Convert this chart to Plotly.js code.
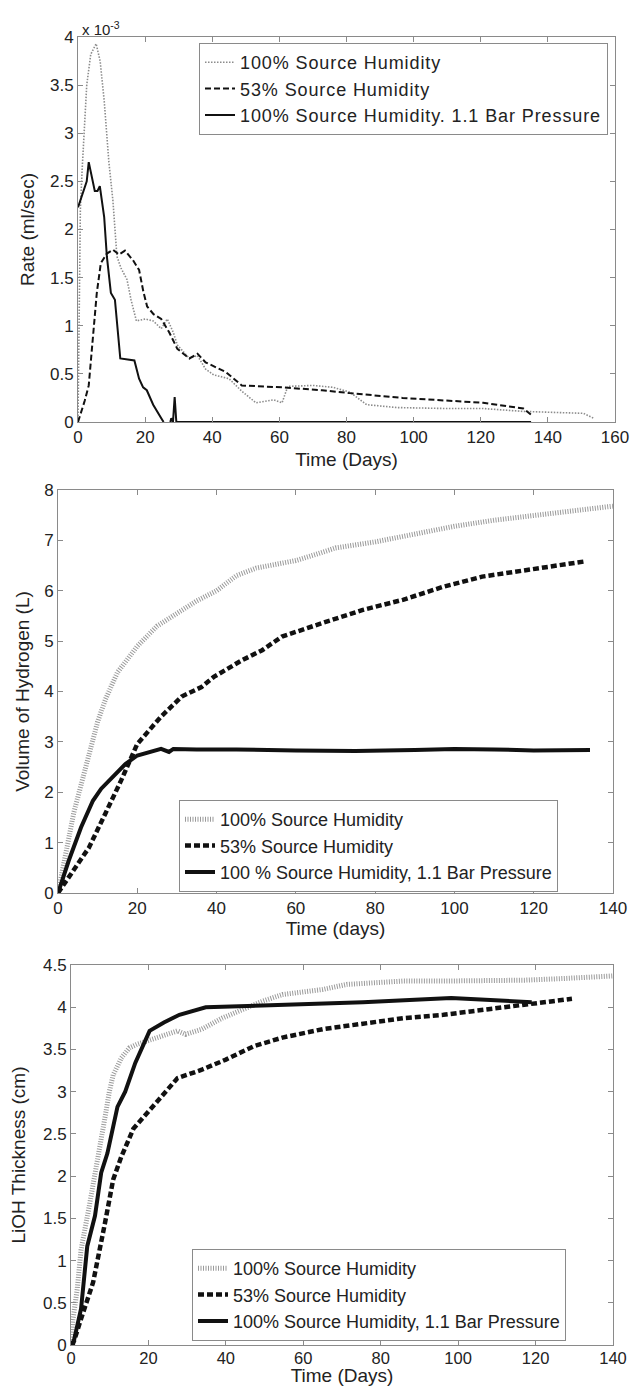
<!DOCTYPE html>
<html>
<head>
<meta charset="utf-8">
<script src="https://cdn.plot.ly/plotly-3.0.1.min.js"></script>
<style>
html,body{margin:0;padding:0;background:#fff;}
#chart{width:631px;height:1386px;}
.legendtext{letter-spacing:0.9px;}
</style>
</head>
<body>
<div id="chart"></div>
<script>
// ---------- Panel 1: Rate (ml/sec, in units of 1e-3) vs Time (Days) ----------
const rateT100 = [0,0.3,0.7,1.2,1.8,2.6,3.8,5.4,6.6,7.8,9.2,10.4,11.6,12.8,14.6,15.8,17.4,20,22.4,24.8,26.6,28.4,29.6,33.2,35.6,38,40.4,45,48.8,53,58.4,60.8,62.5,70,76,81,86,95,110,120.7,132.7,140,150.6,153.6];
const rate100  = [0,1.2,2.2,2.6,3.0,3.5,3.82,3.93,3.75,3.34,2.7,2.3,1.72,1.6,1.48,1.27,1.05,1.07,1.05,0.97,1.07,0.93,0.8,0.66,0.69,0.55,0.49,0.45,0.32,0.2,0.23,0.2,0.37,0.38,0.36,0.31,0.18,0.15,0.14,0.14,0.11,0.1,0.09,0.04];
const rateT53 = [0,1,2,3.2,4,5,5.6,6.8,8.6,10.4,12.2,14,16.4,18.2,19.5,20.6,22.5,24.8,27.2,29.6,33.2,35.6,38,44,48.8,60.8,72.7,81,96.7,120.7,132.7,135.6];
const rate53  = [0,0.1,0.22,0.38,0.7,1.1,1.34,1.65,1.75,1.79,1.74,1.78,1.68,1.58,1.35,1.2,1.12,1.07,0.93,0.76,0.66,0.71,0.62,0.52,0.38,0.36,0.33,0.3,0.25,0.2,0.14,0.06];
const rateT11 = [0,1.5,2.6,3.2,4,5,5.8,6.5,7.8,8.6,9.8,11,12.6,16.8,18.2,19.4,20.5,22.4,24.8,25.5,26.5,27.5,27.8,28.3,28.8,29.3,135];
const rate11  = [2.23,2.4,2.5,2.7,2.55,2.4,2.4,2.45,2.13,1.72,1.34,1.27,0.66,0.64,0.45,0.36,0.33,0.18,0.04,0,null,0,0.04,0,0.26,0,0];

// ---------- Panel 2: Volume of Hydrogen (L) vs Time (days) ----------
const volT100 = [0,2,4,6,8,10,12,15,20,25,30,35,40,45,50,55,60,65,70,80,90,100,110,120,130,140];
const vol100  = [0,0.75,1.6,2.2,2.85,3.4,3.85,4.38,4.9,5.3,5.55,5.8,6.0,6.3,6.45,6.52,6.6,6.72,6.85,6.97,7.12,7.28,7.4,7.5,7.6,7.68];
const volT53 = [0,3.8,7.8,11.9,15.9,20,26,31.2,36.2,39.3,46.4,51.5,56.5,66.7,76.9,87,97.2,107,117.5,127.6,132.7];
const vol53  = [0,0.44,0.9,1.57,2.23,2.96,3.5,3.9,4.09,4.29,4.62,4.82,5.09,5.36,5.62,5.82,6.08,6.28,6.41,6.53,6.58];
const volT11 = [0,2.7,5.8,8.8,10.9,13.9,17,20,23,26,28,29.1,35,45,60,75,90,100,110,120,134.2];
const vol11  = [0,0.64,1.3,1.83,2.07,2.3,2.56,2.73,2.8,2.86,2.8,2.86,2.85,2.85,2.83,2.82,2.84,2.86,2.85,2.83,2.84];

// ---------- Panel 3: LiOH Thickness (cm) vs Time (Days) ----------
const thT100 = [0,0.5,1.6,2.6,4.7,6.8,8.8,9.9,10.9,13,15.1,17,21.3,25.5,27.5,29.6,33.8,39,44.2,49.4,54.6,65,71.2,75.4,85.8,96.2,117,127.3,139.8];
const th100  = [0,0.3,0.66,1.13,1.64,2.23,2.7,3.0,3.2,3.4,3.52,3.56,3.62,3.68,3.72,3.68,3.74,3.87,3.97,4.07,4.15,4.21,4.27,4.28,4.31,4.31,4.32,4.34,4.37];
const thT53 = [0,0.8,2.6,5.7,8.8,10.9,13,16.1,20.3,24.4,27.5,33.8,40,47.3,54.6,65,75.4,85.8,96.2,106.5,119,129.4];
const th53  = [0,0.05,0.31,0.74,1.45,1.96,2.23,2.56,2.78,2.99,3.16,3.26,3.38,3.54,3.64,3.74,3.81,3.87,3.91,3.97,4.05,4.1];
const thT11 = [0,0.5,2.6,4.2,6.2,7.8,9.4,12,14,16.6,20.3,24,28,34.8,49.4,75.4,98.2,106.5,119];
const th11  = [0,0,0.43,1.17,1.53,2.04,2.27,2.82,3.0,3.34,3.72,3.82,3.91,4.0,4.02,4.06,4.11,4.09,4.06];

const names1 = ['100% Source Humidity','53% Source Humidity','100% Source Humidity. 1.1 Bar Pressure'];
const names2 = ['100% Source Humidity','53% Source Humidity','100 % Source Humidity, 1.1 Bar Pressure'];
const names3 = ['100% Source Humidity','53% Source Humidity','100% Source Humidity, 1.1 Bar Pressure'];

const FONT = 'Liberation Sans, Arial, sans-serif';
const GRAY = '#9a9a9a';

const traces = [
  {x: rateT100, y: rate100, name: names1[0], mode:'lines', line:{color:'#8c8c8c', width:1.6, dash:'1.5px,1.5px'}, xaxis:'x', yaxis:'y', legend:'legend'},
  {x: rateT53,  y: rate53,  name: names1[1], mode:'lines', line:{color:'#111', width:2, dash:'6px,3px'}, xaxis:'x', yaxis:'y', legend:'legend'},
  {x: rateT11,  y: rate11,  name: names1[2], mode:'lines', line:{color:'#111', width:2}, connectgaps:false, xaxis:'x', yaxis:'y', legend:'legend'},

  {x: volT100, y: vol100, name: names2[0], mode:'lines', line:{color:GRAY, width:5, dash:'1px,1.5px'}, xaxis:'x2', yaxis:'y2', legend:'legend2'},
  {x: volT53,  y: vol53,  name: names2[1], mode:'lines', line:{color:'#111', width:4.5, dash:'6px,3px'}, xaxis:'x2', yaxis:'y2', legend:'legend2'},
  {x: volT11,  y: vol11,  name: names2[2], mode:'lines', line:{color:'#111', width:4}, xaxis:'x2', yaxis:'y2', legend:'legend2'},

  {x: thT100, y: th100, name: names3[0], mode:'lines', line:{color:GRAY, width:5, dash:'1px,1.5px'}, xaxis:'x3', yaxis:'y3', legend:'legend3'},
  {x: thT53,  y: th53,  name: names3[1], mode:'lines', line:{color:'#111', width:4.5, dash:'6px,3px'}, xaxis:'x3', yaxis:'y3', legend:'legend3'},
  {x: thT11,  y: th11,  name: names3[2], mode:'lines', line:{color:'#111', width:4}, xaxis:'x3', yaxis:'y3', legend:'legend3'}
];

function ax(extra){
  return Object.assign({
    showline:true, linecolor:'#8a8a8a', linewidth:1, mirror:'ticks',
    ticks:'inside', ticklen:5, tickcolor:'#8a8a8a', tickwidth:1,
    showgrid:false, zeroline:false, automargin:false,
    tickfont:{family:FONT, size:17, color:'#222'}
  }, extra);
}
function ttl(t, standoff){ return {text:t, font:{family:FONT, size:19, color:'#222'}, standoff:standoff}; }
const W = 631, H = 1386;
function leg(px, py){
  return {x:px/W, y:1-py/H, xanchor:'left', yanchor:'top', bgcolor:'#fff',
    bordercolor:'#8a8a8a', borderwidth:1, font:{family:FONT, size:18, color:'#222'},
    tracegroupgap:0, itemwidth:30};
}

const layout = {
  width:W, height:H, margin:{l:0,r:0,t:0,b:0}, paper_bgcolor:'#fff', plot_bgcolor:'#fff',
  showlegend:true,
  xaxis: ax({domain:[78/W,615/W], range:[0,160], dtick:20, tick0:0, anchor:'y', title:ttl('Time (Days)',6)}),
  yaxis: ax({domain:[1-422/H,1-37/H], range:[0,4], dtick:0.5, tick0:0, anchor:'x', title:ttl('Rate (ml/sec)',10)}),
  xaxis2: ax({domain:[58/W,613/W], range:[0,140], dtick:20, tick0:0, anchor:'y2', title:ttl('Time (days)',1)}),
  yaxis2: ax({domain:[1-893/H,1-490/H], range:[0,8], dtick:1, tick0:0, anchor:'x2', title:ttl('Volume of Hydrogen (L)',9)}),
  xaxis3: ax({domain:[71/W,613/W], range:[0,140], dtick:20, tick0:0, anchor:'y3', ticklabelstandoff:-2,
              tickfont:{family:FONT, size:16.5, color:'#222'}, title:ttl('Time (Days)',1)}),
  yaxis3: ax({domain:[1-1345/H,1-965/H], range:[0,4.5], dtick:0.5, tick0:0, anchor:'x3', title:ttl('LiOH Thickness (cm)',12)}),
  legend: leg(199,43),
  legend2: leg(179,800),
  legend3: leg(192,1249),
  annotations:[
    {xref:'paper', yref:'paper', x:80/W, y:1-29/H, xanchor:'left', yanchor:'middle', showarrow:false,
     text:'x 10<sup>-3</sup>', font:{family:FONT, size:15, color:'#222'}}
  ]
};

Plotly.newPlot('chart', traces, layout, {displayModeBar:false, staticPlot:true});
</script>
</body>
</html>
